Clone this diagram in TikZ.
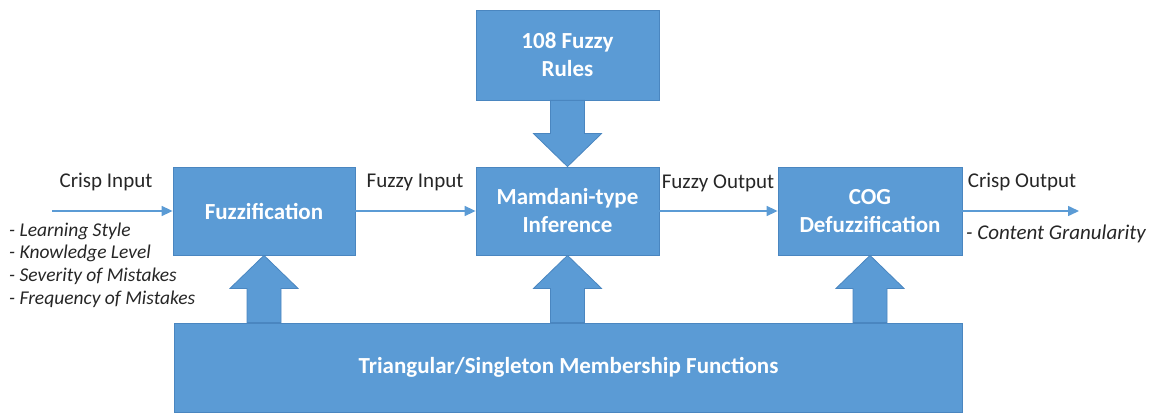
\documentclass[tikz,border=0pt]{standalone}
\usepackage{fontspec}
\setmainfont{Carlito}
\usetikzlibrary{calc,arrows.meta}

\definecolor{boxfill}{HTML}{5B9BD5}
\definecolor{boxline}{HTML}{4A86C0}
\definecolor{labeltext}{HTML}{262626}

\tikzset{
  stage/.style={draw=boxline, line width=0.8pt, fill=boxfill, text=white,
    inner sep=0pt, align=center,
    font=\fontsize{23}{28}\selectfont\bfseries},
  flowlabel/.style={text=labeltext, inner sep=0pt,
    font=\fontsize{21}{25}\selectfont},
  itemlist/.style={text=labeltext, inner sep=0pt, align=left,
    font=\fontsize{19.5}{22.8}\selectfont\itshape},
  flow/.style={draw=boxfill, line width=1.5pt,
    -{Triangle[length=11pt,width=10pt]}},
  fatarrow/.style={draw=boxline, line width=0.8pt, fill=boxfill, line join=miter},
}

% Block arrow from #1 to the tip #2 (both on one vertical line)
\newcommand\blockarrow[2]{%
  \path ($(#2)!33pt!(#1)$) coordinate (hb);
  \filldraw[fatarrow]
    ($(#1)+(-17pt,0)$) -- ($(hb)+(-17pt,0)$) -- ($(hb)+(-34pt,0)$) --
    (#2) -- ($(hb)+(34pt,0)$) -- ($(hb)+(17pt,0)$) -- ($(#1)+(17pt,0)$) -- cycle;}

\begin{document}
\begin{tikzpicture}[x=1pt,y=-1pt]
  \useasboundingbox (0,0) rectangle (1153,414);

  % processing stages
  \node[stage, minimum width=183, minimum height=90] (rules) at (567.5,55)
    {108 Fuzzy\\Rules};
  \node[stage, minimum width=182, minimum height=88] (fuzz) at (264,211)
    {Fuzzification};
  \node[stage, minimum width=183, minimum height=88] (mamdani) at (567.5,211)
    {Mamdani-type\\Inference};
  \node[stage, minimum width=184, minimum height=88] (cog) at (870,211)
    {COG\\Defuzzification};
  \node[stage, minimum width=788, minimum height=89] (mf) at (568.5,367.5)
    {Triangular/Singleton Membership Functions};

  % block arrows
  \blockarrow{rules.south}{mamdani.north}
  \coordinate (s1) at (fuzz.south |- mf.north);
  \coordinate (s2) at (mamdani.south |- mf.north);
  \coordinate (s3) at (cog.south |- mf.north);
  \blockarrow{s1}{fuzz.south}
  \blockarrow{s2}{mamdani.south}
  \blockarrow{s3}{cog.south}

  % signal flow
  \coordinate (cin) at (52,211);
  \coordinate (cout) at (1079,211);
  \draw[flow] (cin) -- (fuzz.west);
  \draw[flow] (fuzz.east) -- (mamdani.west);
  \draw[flow] (mamdani.east) -- (cog.west);
  \draw[flow] (cog.east) -- (cout);

  % flow labels
  \node[flowlabel] (lcin) at (106,182) {Crisp Input};
  \node[flowlabel] (lfin) at (415,182) {Fuzzy Input};
  \node[flowlabel] (lfout) at (718,183) {Fuzzy Output};
  \node[flowlabel] (lcout) at (1022,182) {Crisp Output};

  % variables
  \node[itemlist, anchor=west] (inputs) at (9,265)
    {- Learning Style\\- Knowledge Level\\- Severity of Mistakes\\- Frequency of Mistakes};
  \node[itemlist, anchor=west, font=\fontsize{21}{25}\selectfont\itshape]
    (outputs) at (966,234) {- Content Granularity};
\end{tikzpicture}
\end{document}
